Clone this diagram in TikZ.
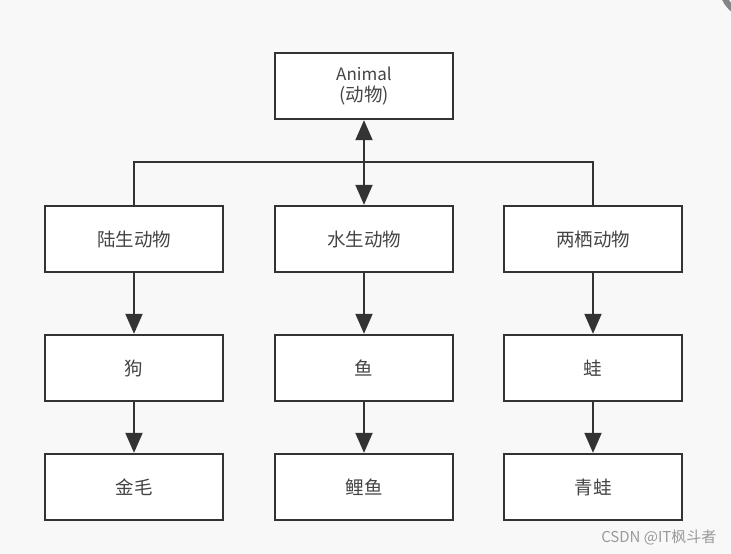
\documentclass[tikz,border=0pt]{standalone}
\usepackage{fontspec}
\setmainfont{Noto Sans CJK SC}
\newfontfamily\cjk{Noto Sans CJK SC}
\usetikzlibrary{arrows.meta}
\definecolor{bg}{HTML}{F8F8F8}
\definecolor{ln}{HTML}{333333}
\definecolor{tx}{HTML}{444444}
\definecolor{wm}{HTML}{9A9A9A}
\begin{document}
\begin{tikzpicture}[x=1pt,y=-1pt,
  box/.style={draw=ln,line width=2.4pt,fill=white,minimum width=178pt,minimum height=66pt,inner sep=0pt,font=\fontsize{18.5}{21}\selectfont\cjk,text=tx,align=center},
  conn/.style={draw=ln,line width=2pt},
  arr/.style={conn,-{Triangle[length=20pt,width=17pt]}},
  darr/.style={conn,{Triangle[length=20pt,width=17pt]}-{Triangle[length=20pt,width=17pt]}}]
\fill[bg] (0,0) rectangle (731,554);
\useasboundingbox (0,0) rectangle (731,554);
% corner artifact
\begin{scope}
\clip (0,0) rectangle (731,554);
\draw[line width=6pt,ln!60] (752,-14) circle[radius=30];
\end{scope}
\node[box] (animal) at (364,86) {{\fontsize{17}{21}\selectfont Animal}\\(动物)};
\node[box] (land) at (134,239) {陆生动物};
\node[box] (water) at (364,239) {水生动物};
\node[box] (amph) at (593,239) {两栖动物};
\node[box] (dog) at (134,368) {狗};
\node[box] (fish) at (364,368) {鱼};
\node[box] (frog) at (593,368) {蛙};
\node[box] (golden) at (134,487) {金毛};
\node[box] (carp) at (364,487) {鲤鱼};
\node[box] (qfrog) at (593,487) {青蛙};
\coordinate (hl) at (134,162);
\coordinate (hr) at (593,162);
\draw[conn] (land.north) -- (hl) -- (hr) -- (amph.north);
\draw[darr] (animal.south) -- (water.north);
\draw[arr] (land) -- (dog);
\draw[arr] (water) -- (fish);
\draw[arr] (amph) -- (frog);
\draw[arr] (dog) -- (golden);
\draw[arr] (fish) -- (carp);
\draw[arr] (frog) -- (qfrog);
\node[font=\fontsize{15}{17}\selectfont\cjk,text=wm,anchor=east] (wmark) at (720,537) {CSDN @IT枫斗者};
\end{tikzpicture}
\end{document}
